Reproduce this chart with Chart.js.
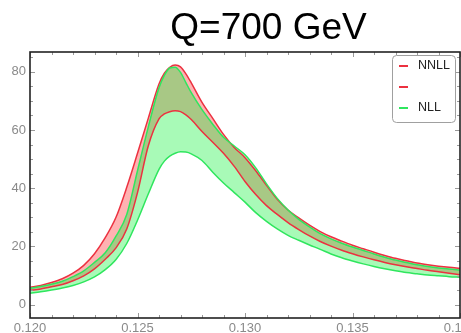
<!DOCTYPE html>
<html>
<head>
<meta charset="utf-8">
<script src="https://cdn.jsdelivr.net/npm/chart.js@4/dist/chart.umd.min.js"></script>
<style>
  html, body { margin: 0; padding: 0; background: #fff; overflow: hidden; }
  #wrap { position: absolute; left: 0; top: 0; width: 480px; height: 333px; }
</style>
</head>
<body>
<div id="wrap"><canvas id="plot" width="480" height="333"></canvas></div>
<script>
// x values (thrust-like variable) shared by all curves
var xVals = [0.1200, 0.1205, 0.1210, 0.1215, 0.1220, 0.1225, 0.1230, 0.1235, 0.1240, 0.1245,
    0.1250, 0.1255, 0.1260, 0.12625, 0.1265, 0.12675, 0.1270, 0.12725, 0.1275, 0.1280,
    0.1285, 0.1290, 0.1295, 0.1300, 0.1305, 0.1310, 0.1315, 0.1320, 0.1325, 0.1330,
    0.1335, 0.1340, 0.1345, 0.1350, 0.1355, 0.1360, 0.1365, 0.1370, 0.1375, 0.1380,
    0.1385, 0.1390, 0.1395, 0.1400];

// NNLL band edges
var nnllHigh = [5.9, 6.6, 7.6, 8.9, 10.8, 13.5, 17.5, 23.0, 30.0, 40.3,
    52.0, 64.0, 75.8, 79.5, 81.5, 82.3, 81.7, 79.3, 76.2, 69.5,
    64.0, 58.5, 54.0, 50.5, 46.0, 41.0, 36.2, 32.5, 29.8, 27.3,
    25.1, 23.3, 21.8, 20.4, 19.2, 18.0, 16.9, 15.9, 15.1, 14.3,
    13.7, 13.2, 12.8, 12.5];
var nnllLow = [4.9, 5.4, 6.1, 6.9, 8.2, 9.9, 12.3, 15.6, 19.5, 26.0,
    38.5, 54.5, 63.8, 65.5, 66.3, 66.6, 66.3, 65.2, 63.6, 59.5,
    55.8, 52.0, 47.5, 42.3, 37.8, 34.0, 31.0, 28.2, 25.8, 23.6,
    21.7, 20.1, 18.7, 17.5, 16.4, 15.4, 14.5, 13.7, 13.0, 12.4,
    11.8, 11.3, 10.8, 10.3];

// NLL band edges
var nllHigh = [5.6, 6.2, 7.0, 8.0, 9.6, 11.6, 14.5, 17.8, 23.5, 31.0,
    46.0, 61.0, 74.5, 78.8, 81.3, 81.6, 79.8, 76.3, 72.8, 67.0,
    62.0, 57.5, 54.5, 51.5, 47.0, 41.5, 36.5, 32.5, 29.3, 26.7,
    24.4, 22.6, 21.1, 19.8, 18.6, 17.4, 16.3, 15.3, 14.5, 13.7,
    13.1, 12.6, 12.2, 11.9];
var nllLow = [3.9, 4.4, 5.0, 5.7, 6.6, 7.8, 9.5, 12.0, 15.5, 21.0,
    29.0, 38.0, 46.5, 49.3, 51.0, 52.0, 52.5, 52.4, 51.8, 49.5,
    45.5, 41.8, 38.5, 35.2, 31.6, 28.6, 26.0, 23.8, 22.1, 20.5,
    19.0, 17.4, 16.1, 15.0, 14.0, 13.1, 12.3, 11.6, 11.0, 10.6,
    10.2, 9.9, 9.6, 9.4];

// tick labels
var xTicks = [0.120, 0.125, 0.130, 0.135, 0.140];
var yTicks = [0, 20, 40, 60, 80];

// legend entries (second one has no text in the original)
var legendNames = ['NNLL', '', 'NLL'];

var redLine = '#ec3140';
var greenLine = '#2fe65e';
var redFill = 'rgba(255, 0, 0, 0.30)';
var greenFill = 'rgba(0, 240, 45, 0.34)';
var legendColors = [redLine, redLine, greenLine];

function toPoints(ys) {
    return xVals.map(function (x, i) { return { x: x, y: ys[i] }; });
}

function lineSet(label, ys, color, fill, fillColor) {
    return {
        label: label,
        data: toPoints(ys),
        borderColor: color,
        borderWidth: 1.5,
        backgroundColor: fillColor || 'transparent',
        fill: fill,
        pointRadius: 0,
        cubicInterpolationMode: 'monotone'
    };
}

// frame with inward ticks, like the original plot
var frameTicks = {
    id: 'frameTicks',
    afterDatasetsDraw: function (chart) {
        var ctx = chart.ctx;
        var a = chart.chartArea;
        var xs = chart.scales.x;
        var ys = chart.scales.y;
        ctx.save();
        ctx.strokeStyle = '#999';
        ctx.lineWidth = 1;
        var v, px, len;
        for (v = 120; v <= 140; v++) {
            px = Math.round(xs.getPixelForValue(v / 1000)) + 0.5;
            len = (v % 5 === 0) ? 5 : 3;
            ctx.beginPath();
            ctx.moveTo(px, a.bottom); ctx.lineTo(px, a.bottom - len);
            ctx.moveTo(px, a.top); ctx.lineTo(px, a.top + len);
            ctx.stroke();
        }
        for (v = 0; v <= 85; v += 5) {
            px = Math.round(ys.getPixelForValue(v)) + 0.5;
            len = (v % 20 === 0) ? 5 : 3;
            ctx.beginPath();
            ctx.moveTo(a.left, px); ctx.lineTo(a.left + len, px);
            ctx.moveTo(a.right, px); ctx.lineTo(a.right - len, px);
            ctx.stroke();
        }
        ctx.strokeStyle = '#222';
        ctx.lineWidth = 1.6;
        ctx.strokeRect(a.left, a.top, a.right - a.left, a.bottom - a.top);
        ctx.restore();
    }
};

// boxed legend inside the plot, top right
var insetLegend = {
    id: 'insetLegend',
    afterDraw: function (chart) {
        var ctx = chart.ctx;
        var a = chart.chartArea;
        var w = 63, h = 67;
        var left = a.right - w - 5;
        var top = a.top + 3;
        ctx.save();
        ctx.fillStyle = '#fff';
        ctx.strokeStyle = '#a0a0a0';
        ctx.lineWidth = 1;
        ctx.beginPath();
        ctx.roundRect(left + 0.5, top + 0.5, w, h, 4);
        ctx.fill();
        ctx.stroke();
        ctx.font = '12.5px "Liberation Sans", Arial, sans-serif';
        ctx.textBaseline = 'middle';
        for (var i = 0; i < legendNames.length; i++) {
            var y = top + 11 + i * 21;
            ctx.strokeStyle = legendColors[i];
            ctx.lineWidth = 2;
            ctx.beginPath();
            ctx.moveTo(left + 7, y);
            ctx.lineTo(left + 16, y);
            ctx.stroke();
            ctx.fillStyle = '#222';
            ctx.fillText(legendNames[i], left + 26, y);
        }
        ctx.restore();
    }
};

// big title above the frame
var bigTitle = {
    id: 'bigTitle',
    afterDraw: function (chart) {
        var ctx = chart.ctx;
        ctx.save();
        ctx.font = '37px "Liberation Sans", Arial, sans-serif';
        ctx.fillStyle = '#000';
        ctx.textAlign = 'center';
        ctx.textBaseline = 'alphabetic';
        ctx.fillText('Q=700 GeV', 268.5, 39);
        ctx.restore();
    }
};

var tickFont = { family: '"Liberation Sans", Arial, sans-serif', size: 13 };

var chart = new Chart(document.getElementById('plot').getContext('2d'), {
    type: 'line',
    data: {
        datasets: [
            lineSet('NLL', nllHigh, greenLine, '+1', greenFill),
            lineSet('NLL low', nllLow, greenLine, false),
            lineSet('NNLL', nnllHigh, redLine, '+1', redFill),
            lineSet('NNLL low', nnllLow, redLine, false)
        ]
    },
    options: {
        responsive: false,
        animation: false,
        devicePixelRatio: 1,
        layout: { padding: { left: 0, right: 20, top: 52, bottom: 0 } },
        scales: {
            x: {
                type: 'linear',
                min: 0.120,
                max: 0.140,
                grid: { display: false, drawTicks: false },
                border: { display: false },
                afterBuildTicks: function (s) { s.ticks = xTicks.map(function (v) { return { value: v }; }); },
                afterFit: function (s) { s.height = 15; },
                ticks: {
                    autoSkip: false,
                    maxRotation: 0,
                    padding: 3,
                    color: '#8a8a8a',
                    font: tickFont,
                    callback: function (v) { return v.toFixed(3); }
                }
            },
            y: {
                min: -4.6,
                max: 86.8,
                grid: { display: false, drawTicks: false },
                border: { display: false },
                afterBuildTicks: function (s) { s.ticks = yTicks.map(function (v) { return { value: v }; }); },
                afterFit: function (s) { s.width = 30; },
                ticks: {
                    padding: 4,
                    color: '#8a8a8a',
                    font: tickFont
                }
            }
        },
        plugins: {
            legend: { display: false },
            tooltip: { enabled: false },
            filler: { drawTime: 'beforeDatasetsDraw' }
        }
    },
    plugins: [frameTicks, insetLegend, bigTitle]
});
</script>
</body>
</html>
